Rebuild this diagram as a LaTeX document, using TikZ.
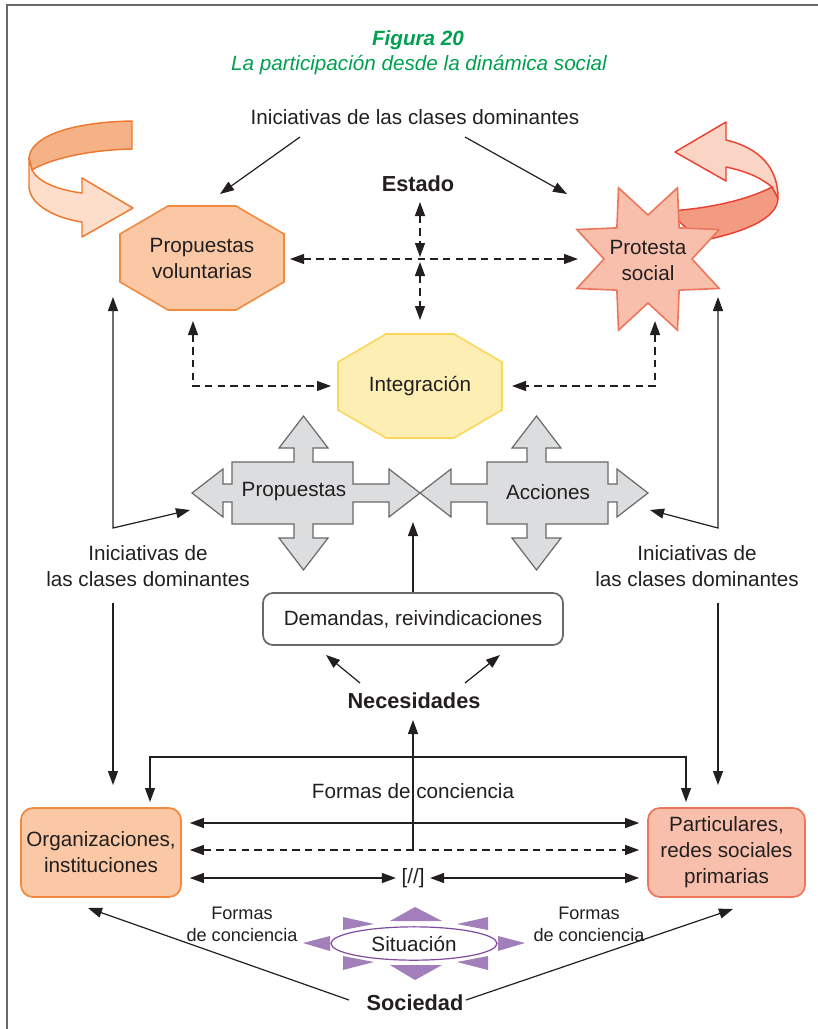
\documentclass[tikz,border=0pt]{standalone}
\usepackage{fontspec}
\setmainfont{Liberation Sans}
\usetikzlibrary{arrows.meta,shapes.geometric}

\definecolor{figgreen}{RGB}{0,160,80}
\definecolor{txt}{RGB}{35,31,32}
\definecolor{framegray}{RGB}{105,105,105}
\definecolor{orgfill}{RGB}{250,200,165}
\definecolor{orgline}{RGB}{241,138,62}
\definecolor{redfill}{RGB}{248,192,172}
\definecolor{redline}{RGB}{236,118,92}
\definecolor{yelfill}{RGB}{253,238,180}
\definecolor{yelline}{RGB}{250,215,90}
\definecolor{crossfill}{RGB}{220,221,223}
\definecolor{crossline}{RGB}{105,105,105}
\definecolor{purp}{RGB}{162,126,186}
\definecolor{purpline}{RGB}{128,74,158}
\definecolor{ribbonline}{RGB}{238,120,45}
\definecolor{ribbonback}{RGB}{246,178,135}
\definecolor{ribbonfront}{RGB}{252,222,202}
\definecolor{redribbonline}{RGB}{234,66,50}
\definecolor{redribbonback}{RGB}{242,155,130}
\definecolor{redribbonfront}{RGB}{250,212,196}

\tikzset{
  lab/.style={font=\fontsize{15.5}{19.5}\selectfont},
  hd/.style={font=\fontsize{16.3}{19}\selectfont\bfseries},
  sm/.style={font=\fontsize{13.6}{16.5}\selectfont},
  arw/.style={-{Triangle[length=10.5pt,width=7.5pt]}, line width=0.9pt, draw=txt},
  darw/.style={{Triangle[length=10.5pt,width=7.5pt]}-{Triangle[length=10.5pt,width=7.5pt]}, line width=0.9pt, draw=txt},
  dsh/.style={dash pattern=on 5.5pt off 4pt},
  octa/.pic={\path[pic actions] (-34,-52) -- (34,-52) -- (82,-24) -- (82,24) -- (34,52) -- (-34,52) -- (-82,24) -- (-82,-24) -- cycle;},
  crossarrow/.pic={\path[pic actions]
    (232,462) -- (294,462) -- (294,448) -- (279,448) -- (303.5,416) -- (328,448) -- (313,448) -- (313,462)
    -- (353,462) -- (353,484) -- (389,484) -- (389,469) -- (420,493) -- (389,517) -- (389,502) -- (353,502)
    -- (353,524) -- (313,524) -- (313,538) -- (328,538) -- (303.5,570) -- (279,538) -- (294,538) -- (294,524)
    -- (232,524) -- (232,502) -- (223,502) -- (223,517) -- (192,493) -- (223,469) -- (223,484) -- (232,484) -- cycle;},
}

\begin{document}
\begin{tikzpicture}[x=0.75pt, y=-0.75pt,
  every node/.style={text=txt, inner sep=0pt, align=center}]
\useasboundingbox (0,0) rectangle (818,1029);

% frame
\draw[framegray, line width=1.5pt] (6.5,1029) -- (6.5,5) -- (818,5);

% title
\node[font=\fontsize{15.5}{19}\selectfont\bfseries\itshape, text=figgreen] (fig) at (418,40) {Figura 20};
\node[font=\fontsize{15.5}{19}\selectfont\itshape, text=figgreen] (sub) at (419,65) {La participación desde la dinámica social};

% orange turning ribbon arrow (top left)
\filldraw[fill=ribbonback, draw=ribbonline, line width=1.1pt, line join=round]
  (132,121) .. controls (75,122) and (31,135) .. (29,158)
  -- (32,170) .. controls (48,160) and (85,150) .. (132,149) -- cycle;
\filldraw[fill=ribbonfront, draw=ribbonline, line width=1.1pt, line join=round]
  (29,158) -- (29,187) .. controls (30,205) and (55,218) .. (82,222)
  -- (82,237) -- (133,208) -- (82,178) -- (82,193)
  .. controls (58,190) and (38,182) .. (32,170) -- cycle;

% red turning ribbon arrow (top right), back part first
\filldraw[fill=redribbonback, draw=redribbonline, line width=1.1pt, line join=round]
  (772,187) .. controls (745,201) and (705,209) .. (668,211)
  -- (700,241) .. controls (742,233) and (778,219) .. (778,198) -- cycle;
\filldraw[fill=redribbonfront, draw=redribbonline, line width=1.1pt, line join=round]
  (675,152) -- (726,122) -- (726,140) .. controls (760,148) and (778,168) .. (778,198)
  -- (772,187) .. controls (760,177) and (745,171) .. (726,167) -- (726,181) -- cycle;

% octagons and star
\pic[fill=orgfill, draw=orgline, line width=1.2pt] at (202,258) {octa};
\pic[fill=yelfill, draw=yelline, line width=1.2pt] at (420,386) {octa};
\filldraw[fill=redfill, draw=redline, line width=1.2pt, shift={(648,259)}]
  (22.5:77) -- (45:44) -- (67.5:77) -- (90:44) -- (112.5:77) -- (135:44) -- (157.5:77) -- (180:44)
  -- (202.5:77) -- (225:44) -- (247.5:77) -- (270:44) -- (292.5:77) -- (315:44) -- (337.5:77) -- (0:44) -- cycle;

\node[lab] (pv) at (202,258) {Propuestas\\voluntarias};
\node[lab] (ps) at (648,260) {Protesta\\social};
\node[lab] (integ) at (420,386) {Integración};

% grey four-way arrows
\pic[fill=crossfill, draw=crossline, line width=0.9pt] at (0,0) {crossarrow};
\pic[fill=crossfill, draw=crossline, line width=0.9pt, xscale=-1] at (840,0) {crossarrow};
\node[lab] (prop) at (294,492) {Propuestas};
\node[lab] (acc) at (548,492) {Acciones};

% text labels
\node[lab] (iniTop) at (415,117) {Iniciativas de las clases dominantes};
\node[hd] (estado) at (418,184) {Estado};
\node[lab] (iniL) at (148,566) {Iniciativas de\\las clases dominantes};
\node[lab] (iniR) at (697,566) {Iniciativas de\\las clases dominantes};
\node[lab, draw=crossline, line width=1.3pt, rounded corners=7.5pt, minimum width=225pt, minimum height=39pt] (dem) at (413,619) {Demandas, reivindicaciones};
\node[hd] (nec) at (414,701) {Necesidades};
\node[lab] (formas) at (413,791) {Formas de conciencia};
\node[lab, fill=orgfill, draw=orgline, line width=1.3pt, rounded corners=9pt, minimum width=120pt, minimum height=66.75pt] (org) at (101,852.5) {Organizaciones,\\instituciones};
\node[lab, fill=redfill, draw=redline, line width=1.3pt, rounded corners=9pt, minimum width=117.75pt, minimum height=66.75pt] (part) at (726.5,852.5) {Particulares,\\redes sociales\\primarias};
\node[lab] (sep) at (413,878) {[//]};
\node[sm] (formL) at (242,924) {Formas\\de conciencia};
\node[sm] (formR) at (589,924) {Formas\\de conciencia};
\node[hd] (soc) at (415,1003) {Sociedad};

% situation sun
\fill[purp] (415,907) -- (442,921) -- (390,921) -- cycle;
\fill[purp] (415,980) -- (442,965) -- (390,965) -- cycle;
\fill[purp] (303,943) -- (330,936) -- (330,951) -- cycle;
\fill[purp] (525,943) -- (498,936) -- (498,951) -- cycle;
\fill[purp] (343,917) -- (374,924) -- (343,930) -- cycle;
\fill[purp] (488,917) -- (457,924) -- (488,930) -- cycle;
\fill[purp] (343,956) -- (374,962) -- (343,970) -- cycle;
\fill[purp] (488,956) -- (457,962) -- (488,970) -- cycle;
\node[lab, ellipse, draw=purpline, fill=white, line width=0.9pt, minimum width=124.5pt, minimum height=25pt] (sit) at (414,943.5) {Situación};

% connector end points
\coordinate (a1) at (300,137);  \coordinate (a1e) at (220,194);
\coordinate (a2) at (465,137);  \coordinate (a2e) at (567,194);
\coordinate (e1) at (420,202);  \coordinate (e2) at (420,257);
\coordinate (e3) at (420,262);  \coordinate (e4) at (420,320);
\coordinate (hL) at (290,259);  \coordinate (hR) at (578,259);
\coordinate (pvB) at (193,321); \coordinate (pvK) at (193,386); \coordinate (inL) at (331,386);
\coordinate (psB) at (655,321); \coordinate (psK) at (655,386); \coordinate (inR) at (512,386);
\coordinate (crL) at (190,510); \coordinate (kL) at (113,528); \coordinate (upL) at (113,297);
\coordinate (crR) at (650,510); \coordinate (kR) at (718,528); \coordinate (upR) at (718,297);
\coordinate (dL1) at (113,603); \coordinate (dL2) at (113,785);
\coordinate (dR1) at (718,603); \coordinate (dR2) at (718,785);
\coordinate (tip) at (413,522);
\coordinate (n1) at (360,683); \coordinate (n1e) at (326,655);
\coordinate (n2) at (465,683); \coordinate (n2e) at (500,655);
\coordinate (vB) at (413,850); \coordinate (vT) at (413,720);
\coordinate (eL) at (150,802); \coordinate (eL2) at (150,757);
\coordinate (eR) at (686,802); \coordinate (eR2) at (686,757);
\coordinate (s1) at (349,1000); \coordinate (s1e) at (88,908);
\coordinate (s2) at (466,1000); \coordinate (s2e) at (733,909);

% connectors
\draw[arw] (a1) -- (a1e);
\draw[arw] (a2) -- (a2e);
\draw[darw, dsh] (e1) -- (e2);
\draw[darw, dsh] (e3) -- (e4);
\draw[darw, dsh] (hL) -- (hR);
\draw[darw, dsh] (pvB) -- (pvK) -- (inL);
\draw[darw, dsh] (psB) -- (psK) -- (inR);
\draw[darw] (crL) -- (kL) -- (upL);
\draw[darw] (crR) -- (kR) -- (upR);
\draw[arw] (dL1) -- (dL2);
\draw[arw] (dR1) -- (dR2);
\draw[arw] (dem.north) -- (tip);
\draw[arw] (n1) -- (n1e);
\draw[arw] (n2) -- (n2e);
\draw[arw] (vB) -- (vT);
\draw[darw] (eL) -- (eL2) -- (eR2) -- (eR);
\draw[darw, shorten <=6pt, shorten >=6pt] (org.east |- 0,823) -- (part.west |- 0,823);
\draw[darw, dsh, shorten <=6pt, shorten >=6pt] (org.east |- 0,850) -- (part.west |- 0,850);
\draw[darw, shorten <=6pt, shorten >=4pt] (org.east |- 0,878) -- (sep.west);
\draw[darw, shorten <=4pt, shorten >=6pt] (sep.east) -- (part.west |- 0,878);
\draw[arw] (s1) -- (s1e);
\draw[arw] (s2) -- (s2e);
\end{tikzpicture}
\end{document}
